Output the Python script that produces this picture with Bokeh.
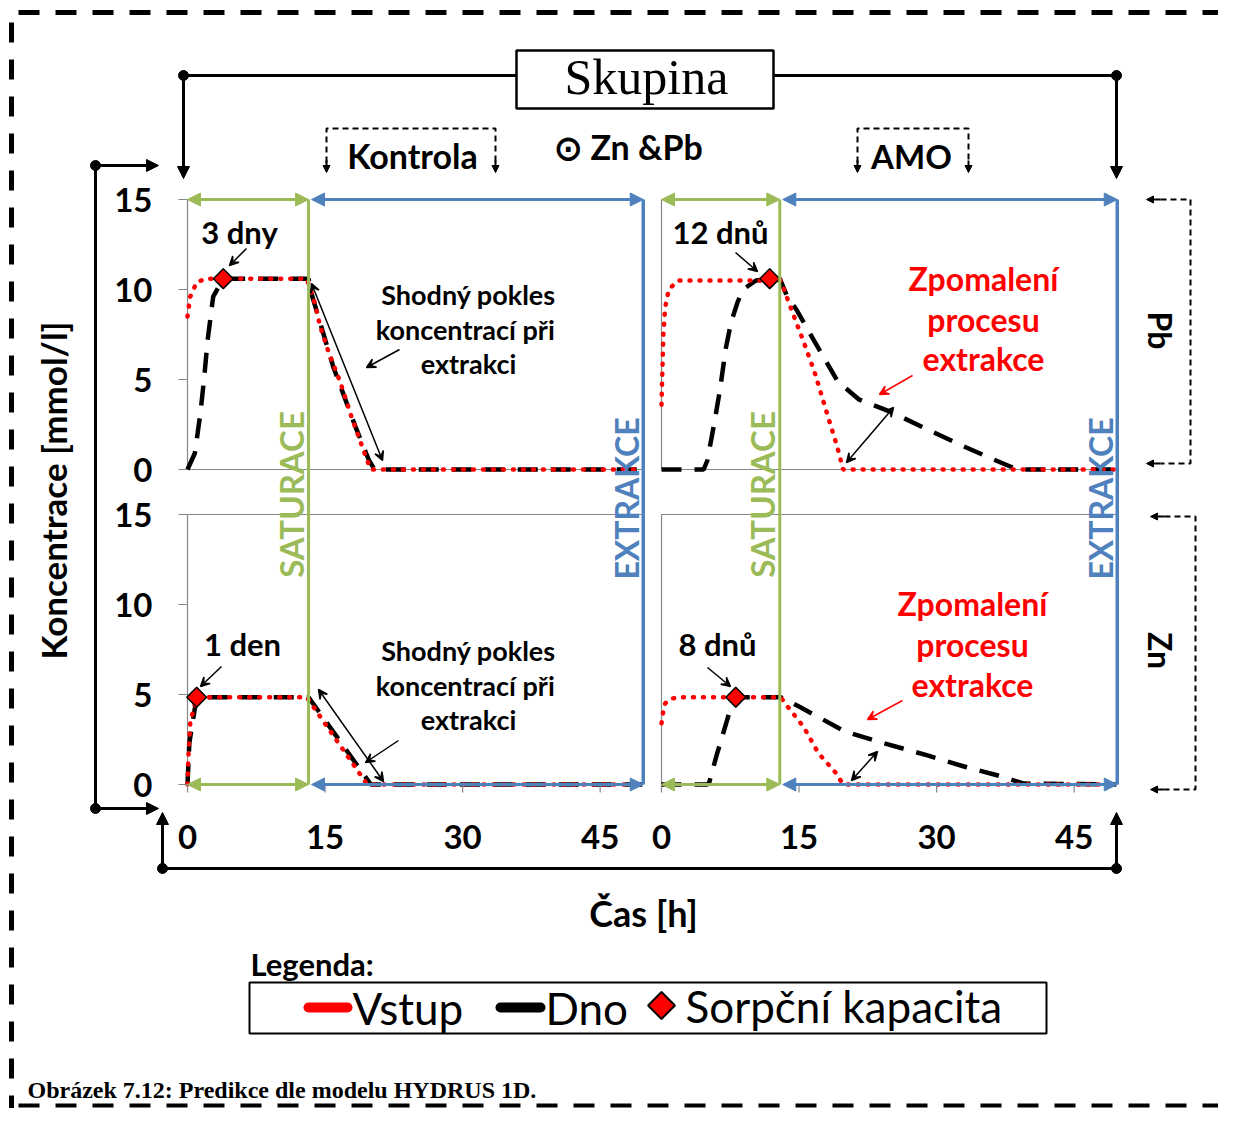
import numpy as np
from bokeh.plotting import figure
from bokeh.models import Range1d, Arrow, NormalHead, VeeHead
from bokeh.core.properties import value
from bokeh.embed import file_html
from bokeh.resources import INLINE

# ---------------- data ----------------
x_ticks = [0, 15, 30, 45]
y_ticks = [0, 5, 10, 15]
x_tick_labels = ["0", "15", "30", "45"]
y_tick_labels = ["0", "5", "10", "15"]

# saturation end / extraction end [h]
sat_end = {"L": 13.2, "R": 12.9}
ext_end = 49.7

# Pb - Kontrola
pb_k_t_vstup = [0, 0.3, 1.0, 2.0, 13.0, 13.7, 14.5, 15.4, 16.7, 17.9, 19.6, 20.0, 49.6]
pb_k_vstup = [8.5, 9.6, 10.4, 10.6, 10.6, 9.6, 7.9, 6.5, 4.8, 2.9, 0.5, 0.0, 0.0]
pb_k_t_dno = [0, 0.8, 1.4, 1.8, 2.2, 2.8, 3.9, 13.2, 13.5, 15.9, 18.3, 19.8, 20.4, 49.6]
pb_k_dno = [0, 0.9, 3.1, 5.0, 7.2, 9.6, 10.6, 10.6, 9.8, 5.7, 2.4, 0.5, 0.0, 0.0]

# Pb - AMO
pb_a_t_vstup = [0, 0.2, 0.4, 0.8, 1.8, 13.0, 14.3, 15.5, 16.7, 18.0, 19.2, 19.8, 49.6]
pb_a_vstup = [3.6, 7.5, 9.0, 10.0, 10.5, 10.5, 8.7, 7.1, 5.4, 3.2, 1.2, 0.0, 0.0]
pb_a_t_dno = [0, 4.6, 5.0, 5.8, 6.4, 7.0, 7.6, 8.3, 8.9, 10.3, 11.8, 12.9, 13.8, 14.7,
              16.7, 19.2, 21.5, 25.0, 29.1, 32.9, 36.0, 38.8, 49.6]
pb_a_dno = [0, 0, 0.5, 2.7, 4.5, 6.7, 8.2, 9.3, 10.0, 10.5, 10.6, 10.6, 9.5, 8.9,
            7.1, 4.9, 3.9, 3.2, 2.2, 1.3, 0.6, 0.0, 0.0]

# Zn - Kontrola
zn_k_t_vstup = [0, 0.1, 0.3, 0.7, 1.1, 13.0, 19.6, 49.6]
zn_k_vstup = [0, 1.6, 3.4, 4.3, 4.85, 4.85, 0.0, 0.0]
zn_k_t_dno = [0, 0.2, 0.6, 1.0, 13.2, 20.0, 49.6]
zn_k_dno = [0, 2.3, 3.6, 4.85, 4.85, 0.0, 0.0]

# Zn - AMO
zn_a_t_vstup = [0, 0.2, 0.4, 0.9, 1.9, 13.0, 13.8, 15.5, 17.1, 19.0, 19.8, 49.6]
zn_a_vstup = [3.4, 4.1, 4.5, 4.75, 4.85, 4.85, 4.3, 3.2, 1.75, 0.65, 0.0, 0.0]
zn_a_t_dno = [0, 5.0, 5.2, 6.0, 7.4, 8.1, 13.0, 15.1, 20.0, 24.2, 29.1, 33.0, 37.0, 39.5, 49.6]
zn_a_dno = [0, 0, 0.1, 1.6, 4.0, 4.85, 4.85, 4.3, 2.95, 2.3, 1.6, 1.0, 0.46, 0.05, 0.0]

# sorption capacity points (t, c)
kap_pb_k = (3.9, 10.6)
kap_pb_a = (11.8, 10.6)
kap_zn_k = (1.0, 4.85)
kap_zn_a = (8.1, 4.85)

# ---------------- layout ----------------
W, H, OFF = 1218, 1108, 0
PX_H, PX_V = 9.17, 18.0
X0 = {"L": 187, "R": 661}
Y0 = {"Pb": 469, "Zn": 784}

GREEN = "#9BBB59"
BLUE = "#4F81BD"
RED = "#FF0000"
GRAY = "#868686"
SANS = "Lato"
SERIF = "Liberation Serif"

p = figure(width=W, height=H, output_backend="svg", toolbar_location=None,
           x_range=Range1d(OFF, OFF + W), y_range=Range1d(OFF + H, OFF),
           x_axis_type=None, y_axis_type=None, min_border=0)
p.outline_line_color = None
p.background_fill_color = "white"

for k, x0 in X0.items():
    p.extra_x_ranges[k] = Range1d((OFF - x0) / PX_H, (OFF + W - x0) / PX_H)
for k, y0 in Y0.items():
    p.extra_y_ranges[k] = Range1d((y0 - (OFF + H)) / PX_V, (y0 - OFF) / PX_V)


def px(panel, t):
    return X0[panel] + PX_H * t


def py(panel, v):
    return Y0[panel] - PX_V * v


def txt(x, y, s, size, color="black", font=SANS, style="bold", align="center",
        baseline="middle", angle=0.0, xr="default", yr="default"):
    p.text(x=x if isinstance(x, list) else [x], y=y if isinstance(y, list) else [y],
           text=s if isinstance(s, list) else [s],
           text_font=value(font), text_font_size=f"{size}px", text_font_style=style,
           text_color=color, text_align=align, text_baseline=baseline, angle=angle,
           x_range_name=xr, y_range_name=yr)


def arrow(x0, y0, x1, y1, color="black", w=1.5, size=9, both=False):
    end = VeeHead(size=size, line_color=color, line_width=w, fill_color=color)
    start = VeeHead(size=size, line_color=color, line_width=w, fill_color=color) if both else None
    p.add_layout(Arrow(x_start=x0, y_start=y0, x_end=x1, y_end=y1, line_color=color,
                       line_width=w, start=start, end=end))


def filled_arrow(x0, y0, x1, y1, color="black", w=3, size=12):
    p.add_layout(Arrow(x_start=x0, y_start=y0, x_end=x1, y_end=y1, line_color=color,
                       line_width=w,
                       end=NormalHead(size=size, line_color=color, fill_color=color)))


# ---------------- outer dashed frame ----------------
p.line([18, 1230], [12, 12], line_color="black", line_width=5, line_dash="21 16")
p.line([11, 11], [22, 1108], line_color="black", line_width=5, line_dash="20 17")
p.line([18, 1230], [1105, 1105], line_color="black", line_width=4, line_dash="21 16")

# ---------------- panels ----------------
panels = [
    ("L", "Pb", pb_k_t_vstup, pb_k_vstup, pb_k_t_dno, pb_k_dno, kap_pb_k),
    ("R", "Pb", pb_a_t_vstup, pb_a_vstup, pb_a_t_dno, pb_a_dno, kap_pb_a),
    ("L", "Zn", zn_k_t_vstup, zn_k_vstup, zn_k_t_dno, zn_k_dno, kap_zn_k),
    ("R", "Zn", zn_a_t_vstup, zn_a_vstup, zn_a_t_dno, zn_a_dno, kap_zn_a),
]

for xr, yr, tv, vv, td, vd, kap in panels:
    p.line([0, 0], [0, 15], x_range_name=xr, y_range_name=yr, line_color=GRAY, line_width=1.2)
    if yr == "Pb":
        p.line([0, ext_end], [0, 0], x_range_name=xr, y_range_name=yr, line_color=GRAY, line_width=1.2)
    else:
        p.line([0, ext_end], [15, 15], x_range_name=xr, y_range_name=yr, line_color=GRAY, line_width=1.2)

for xr, yr, tv, vv, td, vd, kap in panels:
    p.line(td, vd, x_range_name=xr, y_range_name=yr, line_color="black", line_width=4.5,
           line_dash="20 13")
    p.line(tv, vv, x_range_name=xr, y_range_name=yr, line_color=RED, line_width=4.5,
           line_dash="1 9", line_cap="round")
    p.scatter([kap[0]], [kap[1]], x_range_name=xr, y_range_name=yr, marker="square",
              angle=np.pi / 4, size=14, fill_color=RED, line_color="black", line_width=1.5)

# y ticks (left panels)
for yr in ["Pb", "Zn"]:
    for v in y_ticks:
        p.line([px("L", 0) - 9, px("L", 0)], [py(yr, v), py(yr, v)], line_color=GRAY, line_width=1.2)
    txt([152] * len(y_ticks), y_ticks, y_tick_labels, 33, align="right", yr=yr)

# x ticks (bottom panels)
for xr in ["L", "R"]:
    for t in x_ticks:
        p.line([px(xr, t), px(xr, t)], [py("Zn", 0), py("Zn", 0) + 8], line_color=GRAY, line_width=1.2)
    txt(x_ticks, [836] * len(x_ticks), x_tick_labels, 33, xr=xr)

# saturation / extraction verticals and range arrows
for xr in ["L", "R"]:
    ts = sat_end[xr]
    p.line([px(xr, ts)] * 2, [py("Pb", 15), py("Zn", 0)], line_color=GREEN, line_width=3)
    p.line([px(xr, ext_end)] * 2, [py("Pb", 15), py("Zn", 0)], line_color=BLUE, line_width=3.5)
    for yr, v in [("Pb", 15), ("Zn", 0)]:
        y = py(yr, v)
        p.add_layout(Arrow(x_start=px(xr, 0), y_start=y, x_end=px(xr, ts), y_end=y,
                           line_color=GREEN, line_width=3,
                           start=NormalHead(size=13, line_color=GREEN, fill_color=GREEN),
                           end=NormalHead(size=13, line_color=GREEN, fill_color=GREEN)))
        p.add_layout(Arrow(x_start=px(xr, ts) + 3, y_start=y, x_end=px(xr, ext_end), y_end=y,
                           line_color=BLUE, line_width=3,
                           start=NormalHead(size=13, line_color=BLUE, fill_color=BLUE),
                           end=NormalHead(size=13, line_color=BLUE, fill_color=BLUE)))
    txt(px(xr, ts) - 18, 494, "SATURACE", 33, color=GREEN, angle=np.pi / 2)
    txt(px(xr, ext_end) - 17, 498, "EXTRAKCE", 32, color=BLUE, angle=np.pi / 2)

# ---------------- annotations inside panels ----------------
txt(239, 231, "3 dny", 31)
arrow(246, 248, 229, 265)
txt(720, 231, "12 dnů", 31)
arrow(735, 252, 757, 271)
txt(242, 643, "1 den", 31)
arrow(221, 666, 200, 686)
txt(717, 643, "8 dnů", 31)
arrow(707, 667, 730, 686)

for y_top in [294, 650]:
    txt([468, 468, 468], [y_top, y_top + 35, y_top + 69],
        ["Shodný pokles", "koncentrací  při", "extrakci"], 27)
arrow(311, 283, 382, 460, both=True)
arrow(399, 349, 366, 367)
arrow(318, 689, 383, 781, both=True)
arrow(398, 740, 365, 762)

txt([983, 983, 983], [278, 319, 358], ["Zpomalení", "procesu", "extrakce"], 32, color=RED)
txt([972, 972, 972], [603, 644, 684], ["Zpomalení", "procesu", "extrakce"], 32, color=RED)
arrow(912, 375, 879, 394, color=RED)
arrow(902, 700, 867, 719, color=RED)
arrow(846, 462, 893, 407, both=True)
arrow(851, 780, 877, 751, both=True)

# ---------------- header ----------------
p.quad(left=[516], right=[773], top=[50], bottom=[108], fill_color="white",
       line_color="black", line_width=2.5)
txt(646, 76, "Skupina", 50, font=SERIF, style="normal")
p.line([183, 516], [75, 75], line_color="black", line_width=3)
p.line([773, 1116], [75, 75], line_color="black", line_width=3)
filled_arrow(183, 75, 183, 178)
filled_arrow(1116, 75, 1116, 178)
p.scatter([183, 1116], [75, 75], size=10, color="black")

txt(628, 146, "⊙ Zn &Pb", 34)
txt(412, 155, "Kontrola", 34)
txt(911, 155, "AMO", 33)
for xa, xb in [(326, 495), (857, 968)]:
    p.line([xa, xa, xb, xb], [162, 128, 128, 162], line_color="black", line_width=2,
           line_dash="6 4")
    filled_arrow(xa, 160, xa, 172, w=2, size=7)
    filled_arrow(xb, 160, xb, 172, w=2, size=7)

# ---------------- left / bottom brackets ----------------
p.line([95, 95], [165, 808], line_color="black", line_width=3)
filled_arrow(95, 165, 158, 165)
filled_arrow(95, 808, 158, 808)
p.scatter([95, 95], [165, 808], size=10, color="black")
txt(52, 490, "Koncentrace [mmol/l]", 35, angle=np.pi / 2)

p.line([162, 1116], [868, 868], line_color="black", line_width=3)
filled_arrow(162, 868, 162, 812)
filled_arrow(1116, 868, 1116, 812)
p.scatter([162, 1116], [868, 868], size=10, color="black")
txt(643, 912, "Čas [h]", 36)

# ---------------- right element brackets ----------------
for yt, yb, xv, xt, lab, yl in [(199, 463, 1190, 1146, "Pb", 330), (516, 789, 1195, 1150, "Zn", 650)]:
    p.line([xt + 14, xv, xv, xt + 14], [yt, yt, yb, yb], line_color="black", line_width=2,
           line_dash="6 4")
    filled_arrow(xt + 14, yt, xt, yt, w=2, size=7)
    filled_arrow(xt + 14, yb, xt, yb, w=2, size=7)
    txt(1160, yl, lab, 32, angle=-np.pi / 2)

# ---------------- legend ----------------
txt(250, 963, "Legenda:", 31, align="left")
p.quad(left=[249], right=[1046], top=[982], bottom=[1033], fill_color="white",
       line_color="black", line_width=2)
p.line([308, 347], [1007, 1007], line_color=RED, line_width=10, line_cap="round")
txt(352, 1007, "Vstup", 44, style="normal", align="left")
p.line([500, 540], [1007, 1007], line_color="black", line_width=10, line_cap="round")
txt(545, 1007, "Dno", 44, style="normal", align="left")
p.scatter([661], [1005], marker="square", angle=np.pi / 4, size=19, fill_color=RED,
          line_color="black", line_width=2)
txt(685, 1005, "Sorpční kapacita", 44, style="normal", align="left")

# ---------------- caption ----------------
txt(27, 1089, "Obrázek 7.12: Predikce dle modelu HYDRUS 1D.", 24, font=SERIF, align="left")

open("out.html", "w").write(file_html(p, INLINE))
